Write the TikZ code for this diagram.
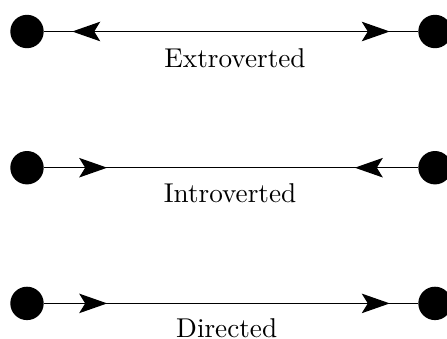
\documentclass[tikz,border=0pt]{standalone}
\usetikzlibrary{arrows.meta,decorations.markings}
\begin{document}
\begin{tikzpicture}[x=1pt,y=-1pt,
  dot/.style={circle,fill=black,inner sep=0pt,minimum size=33.4pt},
  conn/.style={line width=1.2pt},
  tipst/.tip={Stealth[length=28pt,width=19.5pt,inset=6pt]},
  lbl/.style={anchor=base,inner sep=0pt},
  fwdat/.style={postaction={decorate,decoration={markings,mark=at position #1 with {\arrow{tipst}}}}},
  bckat/.style={postaction={decorate,decoration={markings,mark=at position #1 with {\arrowreversed{tipst}}}}}
]
\useasboundingbox (0,0) rectangle (447,338);
% row 1
\node[dot] (l1) at (27,31.5) {};
\node[dot] (r1) at (435,31.5) {};
\draw[conn,bckat=28.3pt,fwdat=-28.3pt] (l1) -- (r1);
\node[lbl] (t1) at (235,67) {\scalebox{2.72}{Extroverted}};
% row 2
\node[dot] (l2) at (27,167.7) {};
\node[dot] (r2) at (435,167.7) {};
\draw[conn,fwdat=63.3pt,bckat=-63.3pt] (l2) -- (r2);
\node[lbl] (t2) at (230,202.5) {\scalebox{2.72}{Introverted}};
% row 3
\node[dot] (l3) at (27,303.4) {};
\node[dot] (r3) at (435,303.4) {};
\draw[conn,fwdat=63.3pt,fwdat=-28.3pt] (l3) -- (r3);
\node[lbl] (t3) at (226.7,337.4) {\scalebox{2.72}{Directed}};
\end{tikzpicture}
\end{document}
